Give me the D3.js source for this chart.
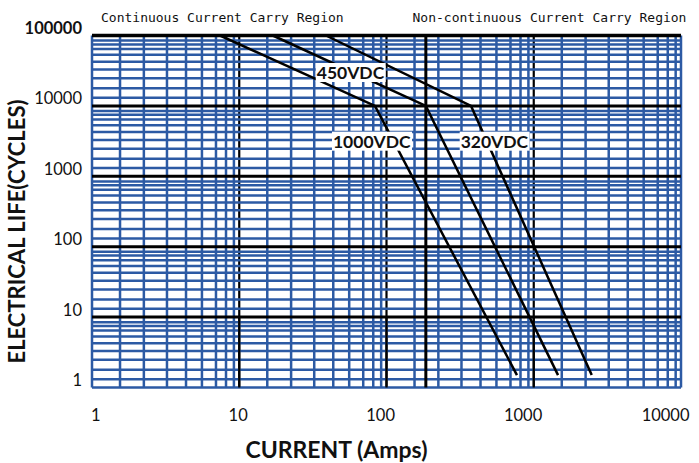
<!DOCTYPE html>
<html>
<head>
<meta charset="utf-8">
<script src="https://cdn.jsdelivr.net/npm/d3@7"></script>
<style>
body { margin: 0; background: #fff; }
text { font-family: Lato, "Open Sans", sans-serif; fill: #111; }
</style>
</head>
<body>
<div id="chart"></div>
<script>
// axis ticks
var xTicks = [1, 10, 100, 1000, 10000];
var yTicks = [1, 10, 100, 1000, 10000, 100000];
// minor grid steps inside one decade, as ruled on the original sheet
var xMinor = [1.55, 2.25, 3.23, 4.35, 5.58, 6.95, 8.13, 9.2];
var yMinor = [1.31, 1.78, 2.47, 3.29, 4.25, 5.32, 6.43, 7.48, 8.47];
// border between continuous / non-continuous region (Amps)
var regionSplit = 185;

// electrical life curves: current (A) -> cycles
var amps1000 = [7.4, 83.5, 769];
var life1000 = [100000, 10000, 1.5];
var amps450 = [16.9, 185, 1462];
var life450 = [100000, 10000, 1.5];
var amps320 = [38.8, 375, 2476];
var life320 = [100000, 10000, 1.5];

var curveNames = ["1000VDC", "450VDC", "320VDC"];
// where each curve name sits (Amps, cycles)
var labelAmps = [43.3, 33.6, 319];
var labelLife = [2550, 24100, 2550];

var margin = {top: 35.5, right: 18, bottom: 75.5, left: 92},
    width = 699 - margin.left - margin.right,
    height = 463 - margin.top - margin.bottom;

var x = d3.scaleLog().domain([1, 10000]).range([0, width]);
var y = d3.scaleLog().domain([1, 100000]).range([height, 0]);

var svg = d3.select("#chart").append("svg")
    .attr("width", 699)
    .attr("height", 463)
  .append("g")
    .attr("transform", "translate(" + margin.left + "," + margin.top + ")");

var blue = "#2c5aa4";

// minor grid values
var xGrid = [1, 10000], yGrid = [1];
[1, 10, 100, 1000].forEach(function(d) {
  xMinor.forEach(function(m) { xGrid.push(m * d); });
});
[1, 10, 100, 1000, 10000].forEach(function(d) {
  yMinor.forEach(function(m) { yGrid.push(m * d); });
});
var xMajor = [10, 100, 1000];
var yMajor = [10, 100, 1000, 10000, 100000];

// blue verticals
svg.selectAll(".vminor").data(xGrid).enter().append("line")
    .attr("x1", d => x(d)).attr("x2", d => x(d))
    .attr("y1", 0).attr("y2", height)
    .attr("stroke", blue).attr("stroke-width", 2.5);

// black decade verticals (under the blue horizontals)
svg.selectAll(".vmajor").data(xMajor).enter().append("line")
    .attr("x1", d => x(d)).attr("x2", d => x(d))
    .attr("y1", 0).attr("y2", height)
    .attr("stroke", "#000").attr("stroke-width", 2.2);

// blue horizontals
svg.selectAll(".hminor").data(yGrid).enter().append("line")
    .attr("x1", 0).attr("x2", width)
    .attr("y1", d => y(d)).attr("y2", d => y(d))
    .attr("stroke", blue).attr("stroke-width", 2.5);

// black decade horizontals
svg.selectAll(".hmajor").data(yMajor).enter().append("line")
    .attr("x1", 0).attr("x2", width)
    .attr("y1", d => y(d)).attr("y2", d => y(d))
    .attr("stroke", "#000").attr("stroke-width", d => d == 100000 ? 3.5 : 3);

// decade verticals are solid in the lowest decade
svg.selectAll(".vlow").data(xMajor).enter().append("line")
    .attr("x1", d => x(d)).attr("x2", d => x(d))
    .attr("y1", y(10)).attr("y2", height)
    .attr("stroke", "#000").attr("stroke-width", 2.2);

// region border
svg.append("line")
    .attr("x1", x(regionSplit)).attr("x2", x(regionSplit))
    .attr("y1", 0).attr("y2", height)
    .attr("stroke", "#000").attr("stroke-width", 3);

// curves
var line = d3.line()
    .x(d => x(d[0]))
    .y(d => y(d[1]));

[[amps1000, life1000], [amps450, life450], [amps320, life320]].forEach(function(c) {
  svg.append("path")
      .datum(d3.zip(c[0], c[1]))
      .attr("fill", "none")
      .attr("stroke", "#000")
      .attr("stroke-width", 2.5)
      .attr("d", line);
});

// curve names on white boxes
curveNames.forEach(function(name, i) {
  var t = svg.append("text")
      .attr("x", x(labelAmps[i]))
      .attr("y", y(labelLife[i]))
      .style("font-size", "17.5px")
      .style("font-weight", "bold")
      .text(name);
  var bb = t.node().getBBox();
  svg.insert("rect", function() { return t.node(); })
      .attr("x", bb.x - 1).attr("y", bb.y + 1)
      .attr("width", bb.width + 2).attr("height", bb.height - 2)
      .attr("fill", "#fff");
});

// y tick labels
svg.selectAll(".ylab").data(yTicks).enter().append("text")
    .attr("x", -10)
    .attr("y", d => y(d) - 1.5)
    .attr("text-anchor", "end")
    .style("font-size", "16.5px")
    .style("font-weight", d => d == 100000 ? "bold" : "normal")
    .text(d => d);

// x tick labels
svg.selectAll(".xlab").data(xTicks).enter().append("text")
    .attr("x", d => x(d) + 8.5)
    .attr("y", height + 33)
    .attr("text-anchor", "end")
    .style("font-size", "16.5px")
    .text(d => d);

// region captions
svg.append("text")
    .attr("x", 9).attr("y", -14)
    .style("font-family", "'DejaVu Sans Mono', monospace")
    .style("font-size", "13px")
    .text("Continuous Current Carry Region");
svg.append("text")
    .attr("x", 320.5).attr("y", -14)
    .style("font-family", "'DejaVu Sans Mono', monospace")
    .style("font-size", "13px")
    .text("Non-continuous Current Carry Region");

// axis titles
svg.append("text")
    .attr("x", width / 2 - 50)
    .attr("y", height + 70.5)
    .attr("text-anchor", "middle")
    .style("font-size", "23px")
    .style("font-weight", "bold")
    .text("CURRENT (Amps)");

svg.append("text")
    .attr("transform", "translate(-67," + (height / 2 + 20) + ") rotate(-90)")
    .attr("text-anchor", "middle")
    .style("font-size", "22px")
    .style("font-weight", "bold")
    .text("ELECTRICAL LIFE(CYCLES)");
</script>
</body>
</html>
